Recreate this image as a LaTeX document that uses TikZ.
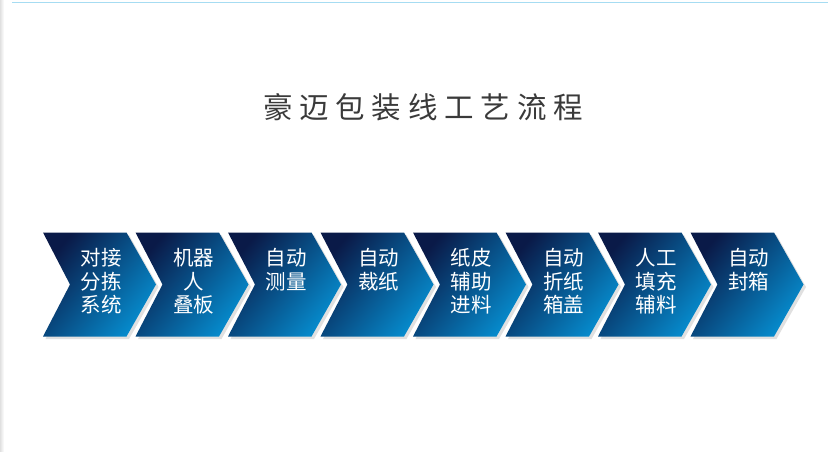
\documentclass[tikz,border=0pt]{standalone}
\usepackage{fontspec}
\newfontfamily\cjk{Noto Sans CJK SC}
\newfontfamily\cjktitle[LetterSpace=23]{Noto Sans CJK SC}
\usetikzlibrary{shadows}

\definecolor{navydark}{RGB}{10,26,72}
\definecolor{bluebright}{RGB}{6,140,206}
\definecolor{titlegray}{RGB}{58,58,58}
\definecolor{rulelight}{RGB}{166,220,242}

\begin{document}
\begin{tikzpicture}[x=1pt, y=-1pt]
                \tikzstyle{chevron} = [top color=navydark, bottom color=bluebright, shading angle=50,
                    drop shadow={shadow xshift=2.5pt, shadow yshift=-2.5pt, fill=black!30, opacity=0.4}]
                \tikzstyle{step label} = [anchor=north, text=white, font=\cjk\fontsize{20.5}{23.5}\selectfont,
                    align=center, inner sep=0pt]
                \useasboundingbox (0, 0) rectangle (833, 452);
                \fill[white] (0, 0) rectangle (833, 452);
                \shade[left color=black!12, right color=white] (0, 0) rectangle (4, 452);
                \draw[rulelight, line width=1.3pt] (12, 2.5) -- (828, 2.5);
                \node[text=titlegray, font=\cjktitle\fontsize{29.5}{31}\selectfont] (title) at (423, 107) {豪迈包装线工艺流程};
                % chevrons
                \shade[chevron] (43, 232.5) -- ++(83.5, 0) -- ++(29.5, 52) -- ++(-29.5, 52) -- ++(-83.5, 0) -- ++(27, -52) -- cycle;
                \shade[chevron] (135.5, 232.5) -- ++(83.5, 0) -- ++(29.5, 52) -- ++(-29.5, 52) -- ++(-83.5, 0) -- ++(27, -52) -- cycle;
                \shade[chevron] (228, 232.5) -- ++(83.5, 0) -- ++(29.5, 52) -- ++(-29.5, 52) -- ++(-83.5, 0) -- ++(27, -52) -- cycle;
                \shade[chevron] (320.5, 232.5) -- ++(83.5, 0) -- ++(29.5, 52) -- ++(-29.5, 52) -- ++(-83.5, 0) -- ++(27, -52) -- cycle;
                \shade[chevron] (413, 232.5) -- ++(83.5, 0) -- ++(29.5, 52) -- ++(-29.5, 52) -- ++(-83.5, 0) -- ++(27, -52) -- cycle;
                \shade[chevron] (505.5, 232.5) -- ++(83.5, 0) -- ++(29.5, 52) -- ++(-29.5, 52) -- ++(-83.5, 0) -- ++(27, -52) -- cycle;
                \shade[chevron] (598, 232.5) -- ++(83.5, 0) -- ++(29.5, 52) -- ++(-29.5, 52) -- ++(-83.5, 0) -- ++(27, -52) -- cycle;
                \shade[chevron] (690.5, 232.5) -- ++(83.5, 0) -- ++(29.5, 52) -- ++(-29.5, 52) -- ++(-83.5, 0) -- ++(27, -52) -- cycle;
                % labels
                \node[step label] (sort) at (101, 248.5) {对接\\分拣\\系统};
                \node[step label] (robot) at (193.5, 248.5) {机器\\人\\叠板};
                \node[step label] (measure) at (286, 248.5) {自动\\测量};
                \node[step label] (cut) at (378.5, 248.5) {自动\\裁纸};
                \node[step label] (feed) at (471, 248.5) {纸皮\\辅助\\进料};
                \node[step label] (fold) at (563.5, 248.5) {自动\\折纸\\箱盖};
                \node[step label] (fill) at (656, 248.5) {人工\\填充\\辅料};
                \node[step label] (seal) at (748.5, 248.5) {自动\\封箱};
            \end{tikzpicture}
\end{document}
